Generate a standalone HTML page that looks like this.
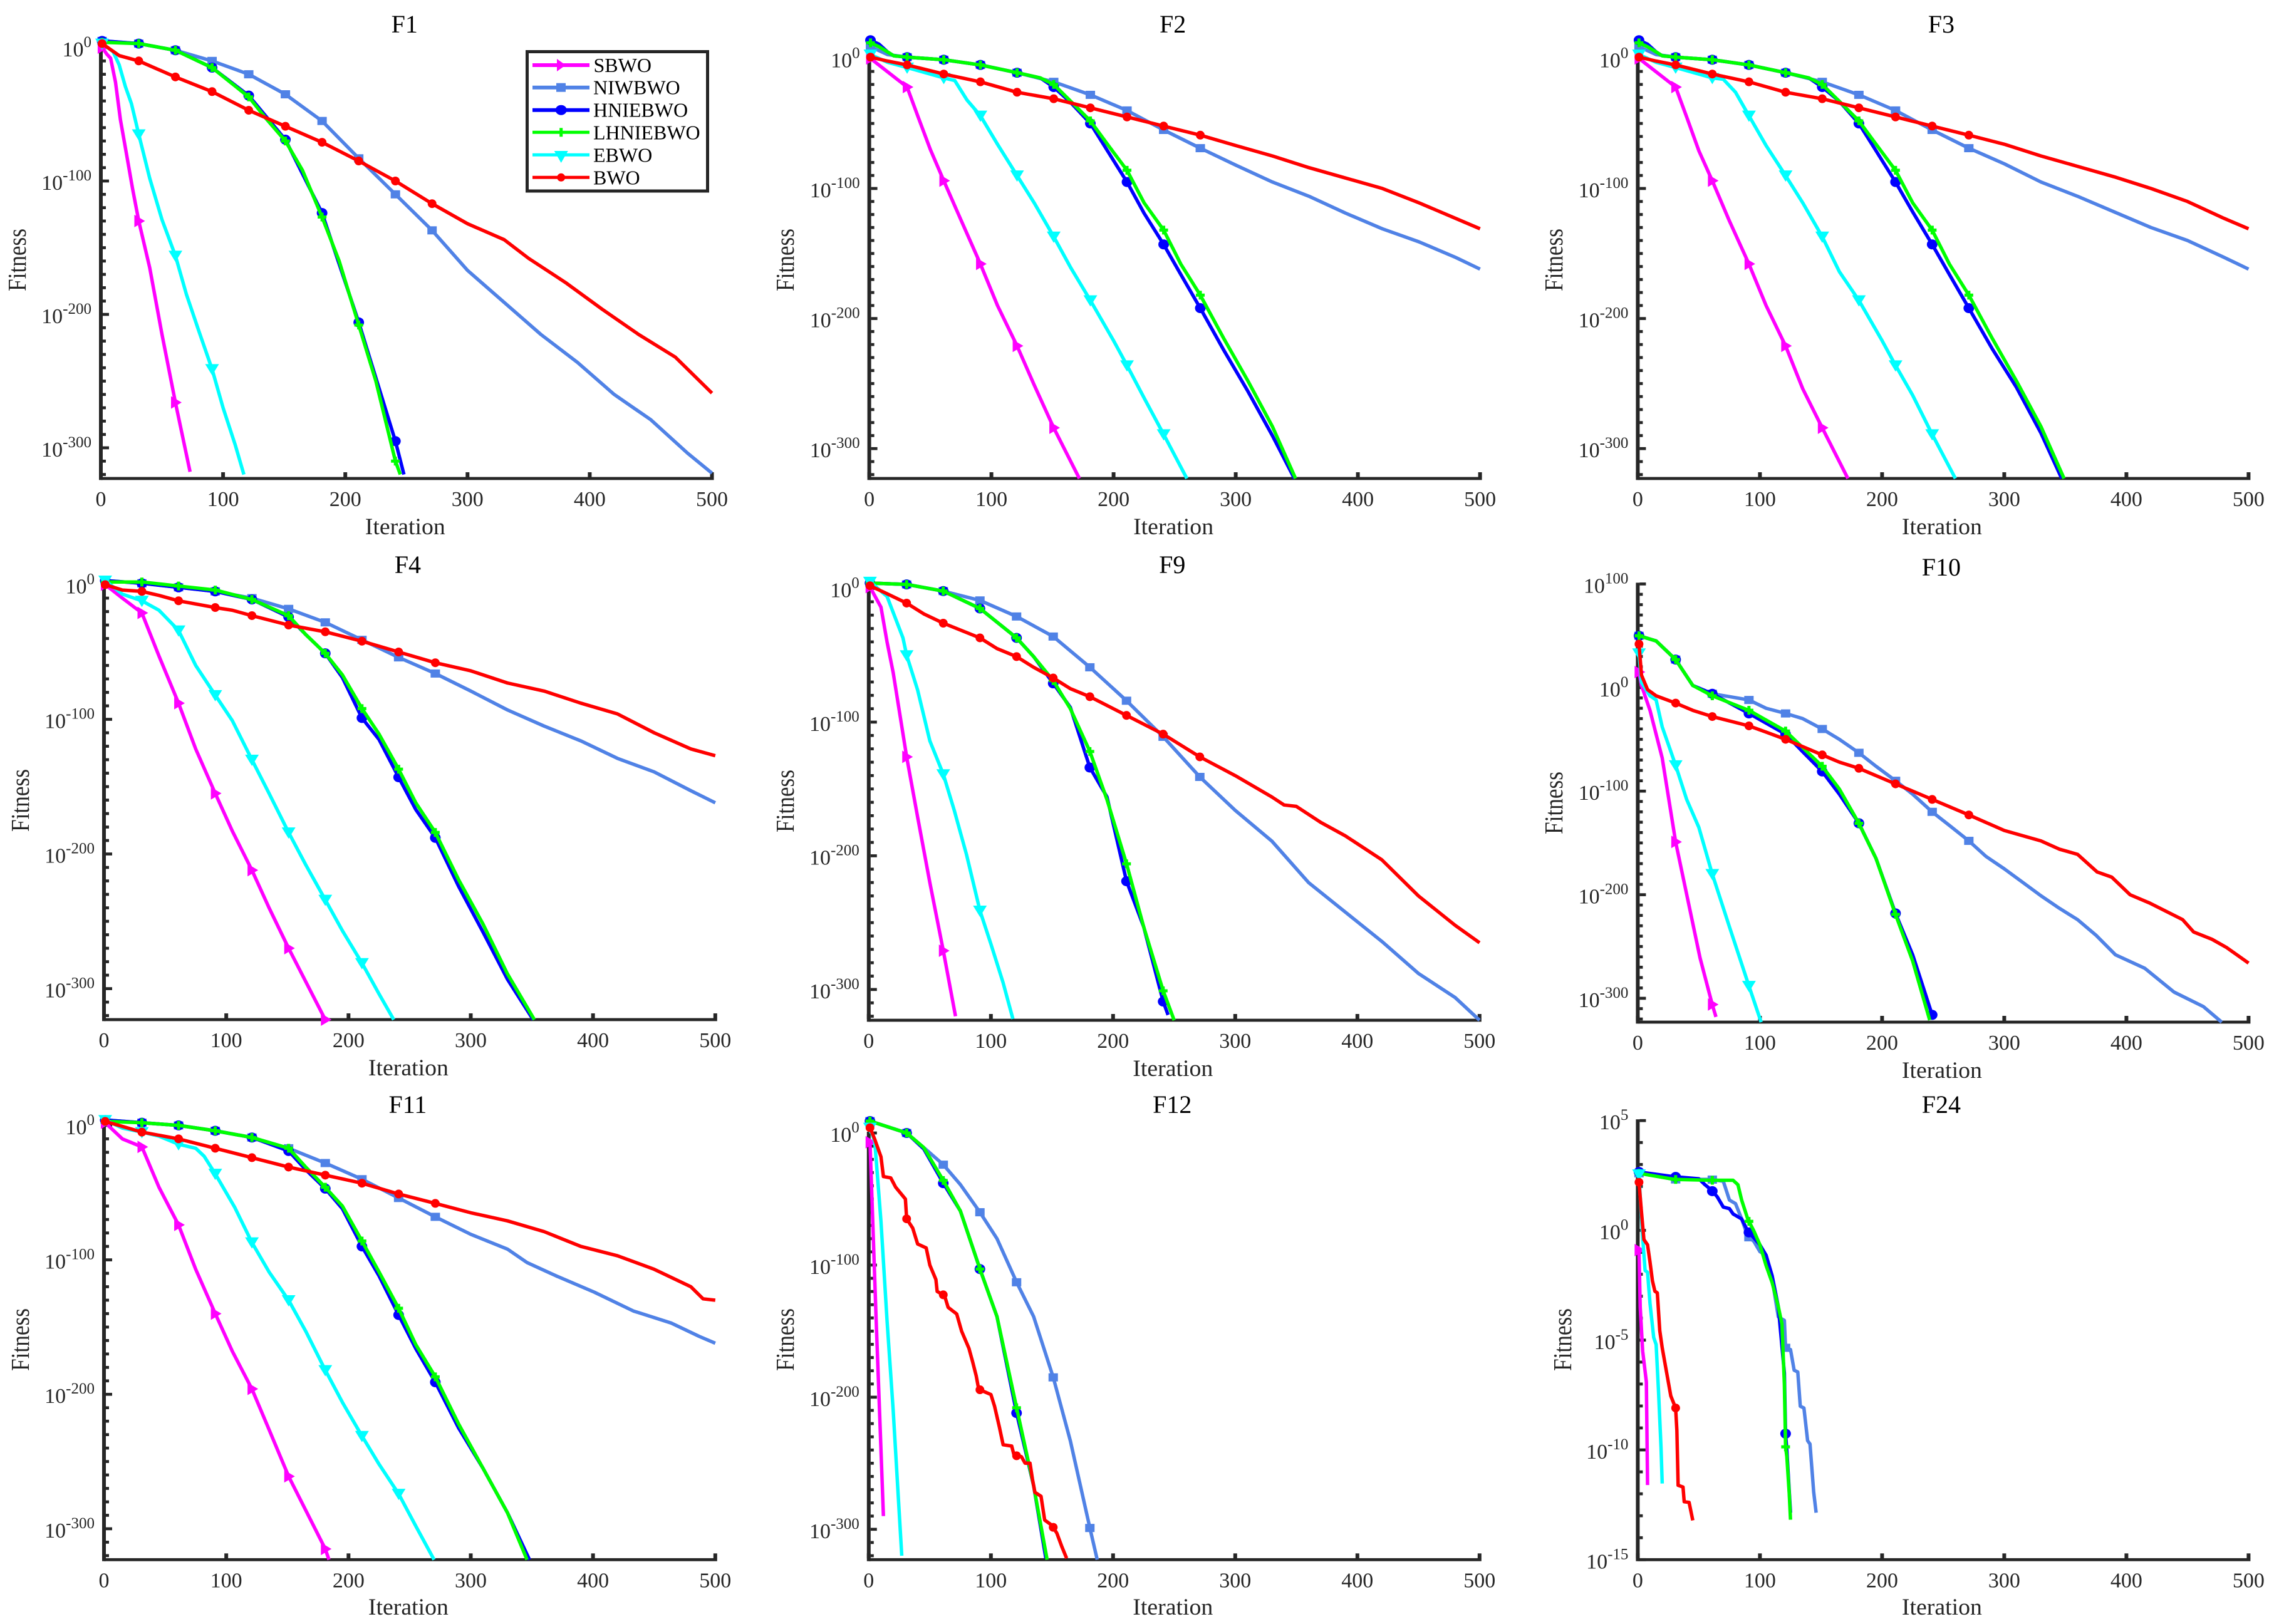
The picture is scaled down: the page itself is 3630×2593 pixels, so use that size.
<!DOCTYPE html>
<html>
<head>
<meta charset="utf-8">
<title>Convergence curves</title>
<style>
html,body{margin:0;padding:0;background:#fff;}
svg{display:block;}
text{font-family:"Liberation Serif",serif;}
</style>
</head>
<body>
<svg id="chart" xmlns="http://www.w3.org/2000/svg" width="3630" height="2593" viewBox="0 0 3630 2593">
<rect width="3630" height="2593" fill="#fff"/>
<g id="plots"></g>
<g>
<rect x="841.5" y="82.5" width="288" height="222.5" fill="#fff" stroke="#262626" stroke-width="5"/>
<g><line x1="850" x2="941" y1="104" y2="104" stroke="#ff00ff" stroke-width="6"/><polygon points="889,94 889,114 903,104" fill="#ff00ff"/><text x="947.5" y="115" font-size="32" fill="#000">SBWO</text></g>
<g><line x1="850" x2="941" y1="139.7" y2="139.7" stroke="#5082e6" stroke-width="6"/><rect x="888" y="132.7" width="15" height="14" fill="#5082e6"/><text x="947" y="150.7" font-size="32" fill="#000">NIWBWO</text></g>
<g><line x1="850" x2="941" y1="175.7" y2="175.7" stroke="#0000ff" stroke-width="6"/><ellipse cx="895.7" cy="175.7" rx="9" ry="8" fill="#0000ff"/><text x="947" y="186.7" font-size="32" fill="#000">HNIEBWO</text></g>
<g><line x1="850" x2="941" y1="211.3" y2="211.3" stroke="#00ff00" stroke-width="5"/><line x1="895.7" x2="895.7" y1="204.3" y2="218.3" stroke="#00ff00" stroke-width="5"/><text x="947" y="222.7" font-size="32" fill="#000">LHNIEBWO</text></g>
<g><line x1="850" x2="941" y1="247.3" y2="247.3" stroke="#00ffff" stroke-width="5"/><polygon points="884.7,241 906.7,241 895.7,260" fill="#00ffff"/><text x="947" y="258.7" font-size="32" fill="#000">EBWO</text></g>
<g><line x1="850" x2="941" y1="283.3" y2="283.3" stroke="#ff0000" stroke-width="5"/><circle cx="895.7" cy="283.3" r="6.5" fill="#ff0000"/><text x="947" y="294.3" font-size="32" fill="#000">BWO</text></g>
</g>
</svg>
<script>
// ---------- Chart data (exponents are log10 of fitness) ----------
const xTickLabels=[0,100,200,300,400,500];
const logTicks300=[0,-100,-200,-300];
const logTicks100=[100,0,-100,-200,-300];
const logTicksF24=[5,0,-5,-10,-15];

const F1_SBWO_iter=[1,5,8,12,16,21,26,31,40,50,61,73];
const F1_SBWO_exp=[0,-5,-8,-26,-54,-80,-106,-130,-165,-215,-266,-318];
const F1_NIWBWO_iter=[1,31,61,91,121,151,181,211,241,271,300,330,360,390,420,450,480,500];
const F1_NIWBWO_exp=[5,3,-2,-10,-20,-35,-55,-83,-110,-137,-167,-191,-215,-236,-260,-279,-304,-319];
const F1_HNIEBWO_iter=[1,31,61,91,121,151,181,211,241,248];
const F1_HNIEBWO_exp=[5,3,-2,-15,-36,-69,-124,-206,-295,-320];
const F1_LHNIEBWO_iter=[1,31,61,91,121,135,151,165,181,195,211,225,241,245];
const F1_LHNIEBWO_exp=[4,3,-2,-15,-37,-53,-70,-92,-127,-160,-208,-250,-310,-320];
const F1_EBWO_iter=[1,10,15,20,25,31,40,50,61,70,80,91,100,110,117];
const F1_EBWO_exp=[3,-3,-13,-29,-42,-65,-98,-129,-156,-185,-212,-241,-270,-298,-320];
const F1_BWO_iter=[1,15,31,61,91,121,151,181,211,241,271,300,330,350,380,410,440,470,500];
const F1_BWO_exp=[3,-6,-10,-22,-33,-47,-59,-71,-85,-100,-117,-132,-144,-158,-176,-196,-215,-232,-259];

const F2_SBWO_iter=[1,31,40,50,61,75,91,105,121,135,151,172];
const F2_SBWO_exp=[0,-22,-45,-70,-94,-124,-158,-190,-221,-251,-284,-323];
const F2_NIWBWO_iter=[1,15,31,61,91,121,151,181,211,241,271,300,330,360,390,420,450,480,500];
const F2_NIWBWO_exp=[9,3,1,-1,-5,-11,-18,-28,-40,-55,-69,-82,-95,-106,-119,-131,-141,-153,-162];
const F2_HNIEBWO_iter=[1,8,15,20,31,61,91,121,140,151,165,181,195,211,225,241,255,271,290,310,330,348];
const F2_HNIEBWO_exp=[14,11,5,2,1,-1,-5,-11,-15,-22,-34,-50,-71,-95,-119,-143,-166,-192,-224,-256,-290,-323];
const F2_LHNIEBWO_iter=[1,8,15,20,31,61,91,121,140,151,165,181,195,211,225,241,255,271,290,310,330,349];
const F2_LHNIEBWO_exp=[12,9,5,2,1,-1,-5,-11,-15,-20,-33,-48,-66,-86,-111,-132,-158,-182,-215,-248,-283,-323];
const F2_EBWO_iter=[1,15,31,61,70,80,91,105,121,135,151,165,181,200,211,225,241,260];
const F2_EBWO_exp=[3,-3,-7,-15,-17,-32,-44,-66,-90,-111,-137,-161,-186,-217,-236,-261,-289,-323];
const F2_BWO_iter=[1,15,31,61,91,121,151,181,211,241,271,300,330,360,390,420,450,480,500];
const F2_BWO_exp=[1,-2,-5,-12,-18,-26,-31,-38,-45,-52,-59,-67,-75,-84,-92,-100,-111,-123,-131];

const F3_SBWO_iter=[1,31,40,50,61,75,91,105,121,135,151,172];
const F3_SBWO_exp=[0,-22,-45,-71,-94,-125,-158,-190,-221,-254,-284,-323];
const F3_NIWBWO_iter=[1,15,31,61,91,121,151,181,211,241,271,300,330,360,390,420,450,480,500];
const F3_NIWBWO_exp=[9,3,1,-1,-5,-11,-18,-28,-40,-55,-69,-81,-95,-106,-118,-130,-140,-153,-162];
const F3_HNIEBWO_iter=[1,8,15,20,31,61,91,121,140,151,165,181,195,211,225,241,255,271,290,310,330,347];
const F3_HNIEBWO_exp=[14,11,5,2,1,-1,-5,-11,-15,-22,-33,-50,-71,-95,-118,-143,-166,-192,-223,-253,-288,-323];
const F3_LHNIEBWO_iter=[1,8,15,20,31,61,91,121,140,151,165,181,195,211,225,241,255,271,290,310,330,349];
const F3_LHNIEBWO_exp=[12,9,5,2,1,-1,-5,-11,-15,-20,-33,-48,-66,-86,-111,-132,-158,-182,-215,-248,-283,-323];
const F3_EBWO_iter=[1,15,31,61,70,80,91,105,121,135,151,165,181,200,211,225,241,260];
const F3_EBWO_exp=[3,-3,-7,-15,-16,-26,-44,-67,-90,-111,-137,-164,-186,-217,-236,-259,-289,-323];
const F3_BWO_iter=[1,15,31,61,91,121,151,181,211,241,271,300,330,360,390,420,450,480,500];
const F3_BWO_exp=[1,-2,-5,-12,-18,-26,-31,-38,-45,-52,-59,-66,-75,-83,-91,-100,-110,-123,-131];

const F4_SBWO_iter=[1,15,31,45,61,75,91,105,121,135,151,181];
const F4_SBWO_exp=[0,-10,-21,-53,-88,-122,-155,-183,-212,-240,-270,-323];
const F4_NIWBWO_iter=[1,31,61,91,121,151,181,211,241,271,300,330,360,390,420,450,480,500];
const F4_NIWBWO_exp=[3,1,-2,-5,-10,-18,-28,-41,-54,-66,-79,-93,-105,-116,-129,-139,-153,-162];
const F4_HNIEBWO_iter=[1,31,61,91,121,151,165,181,195,211,225,241,255,271,290,310,330,351];
const F4_HNIEBWO_exp=[3,1,-2,-5,-11,-24,-37,-51,-69,-99,-115,-143,-167,-188,-224,-258,-293,-323];
const F4_LHNIEBWO_iter=[1,31,61,91,121,151,165,181,195,211,225,241,255,271,290,310,330,352];
const F4_LHNIEBWO_exp=[2,2,-1,-4,-11,-23,-37,-51,-67,-92,-111,-137,-162,-184,-219,-252,-289,-323];
const F4_EBWO_iter=[1,15,31,45,61,75,91,105,121,135,151,165,181,195,211,225,237];
const F4_EBWO_exp=[3,-7,-12,-19,-34,-60,-82,-101,-130,-155,-184,-208,-234,-257,-281,-304,-323];
const F4_BWO_iter=[1,15,31,45,61,91,105,121,151,181,211,241,271,300,330,360,390,420,450,480,500];
const F4_BWO_exp=[0,-4,-5,-8,-12,-17,-19,-23,-30,-35,-42,-50,-58,-64,-73,-79,-88,-96,-110,-122,-127];

const F9_SBWO_iter=[1,10,15,20,31,40,50,61,71];
const F9_SBWO_exp=[1,-14,-40,-63,-126,-171,-220,-271,-320];
const F9_NIWBWO_iter=[1,31,61,91,121,151,181,211,241,271,300,330,360,390,420,450,480,500];
const F9_NIWBWO_exp=[4,3,-2,-9,-21,-36,-59,-84,-111,-141,-166,-189,-220,-242,-264,-288,-306,-323];
const F9_HNIEBWO_iter=[1,31,61,91,121,135,151,165,181,195,211,225,241,245];
const F9_HNIEBWO_exp=[4,3,-2,-15,-37,-51,-71,-89,-134,-156,-219,-253,-309,-319];
const F9_LHNIEBWO_iter=[1,31,61,91,121,135,151,165,181,195,211,225,241,250];
const F9_LHNIEBWO_exp=[4,3,-2,-15,-37,-51,-69,-90,-122,-158,-206,-253,-301,-323];
const F9_EBWO_iter=[1,15,20,28,31,40,50,61,70,80,91,100,110,118];
const F9_EBWO_exp=[5,-6,-18,-37,-50,-76,-114,-139,-166,-199,-241,-266,-295,-322];
const F9_BWO_iter=[1,15,31,45,61,91,105,121,135,151,165,181,211,241,271,300,330,340,350,370,390,420,450,480,500];
const F9_BWO_exp=[2,-4,-11,-19,-26,-37,-45,-51,-59,-67,-75,-81,-95,-109,-126,-140,-156,-162,-163,-175,-185,-203,-230,-252,-265];

const F10_SBWO_iter=[1,3,10,20,31,41,51,61,64];
const F10_SBWO_exp=[15,2,-22,-68,-149,-205,-261,-306,-318];
const F10_NIWBWO_iter=[1,15,31,45,61,91,105,121,135,151,165,181,195,211,225,241,255,271,285,300,315,330,345,360,375,391,415,439,463,478];
const F10_NIWBWO_exp=[50,45,27,2,-6,-12,-20,-25,-30,-40,-50,-63,-76,-90,-103,-120,-133,-148,-163,-175,-188,-201,-213,-224,-239,-258,-271,-294,-308,-323];
const F10_HNIEBWO_iter=[1,15,31,45,61,91,121,135,151,165,181,195,211,225,241];
const F10_HNIEBWO_exp=[50,45,27,2,-6,-25,-45,-62,-81,-103,-131,-165,-218,-258,-316];
const F10_LHNIEBWO_iter=[1,15,31,45,61,91,121,135,151,165,181,195,211,225,239];
const F10_LHNIEBWO_exp=[50,45,27,2,-8,-22,-42,-58,-76,-98,-131,-165,-219,-264,-321];
const F10_EBWO_iter=[1,3,10,15,20,31,40,50,61,75,91,101];
const F10_EBWO_exp=[33,5,-8,-12,-38,-75,-108,-135,-180,-231,-288,-323];
const F10_BWO_iter=[1,3,8,15,31,45,61,91,105,121,151,165,181,211,241,271,300,330,345,360,376,388,403,419,446,455,470,482,500];
const F10_BWO_exp=[42,12,-2,-8,-15,-22,-28,-37,-43,-50,-65,-72,-78,-93,-108,-123,-138,-148,-156,-161,-178,-183,-200,-208,-224,-236,-243,-251,-266];

const F11_SBWO_iter=[1,15,31,45,61,75,91,105,121,134,151,181,184];
const F11_SBWO_exp=[2,-10,-16,-46,-74,-107,-140,-168,-196,-224,-261,-315,-323];
const F11_NIWBWO_iter=[1,31,61,91,121,151,181,211,241,271,300,330,346,370,401,433,464,487,500];
const F11_NIWBWO_exp=[4,2,0,-4,-9,-17,-28,-40,-54,-68,-81,-92,-102,-112,-124,-138,-147,-157,-162];
const F11_HNIEBWO_iter=[1,31,61,91,121,151,165,181,195,211,225,241,255,271,290,310,330,348];
const F11_HNIEBWO_exp=[4,2,0,-4,-9,-19,-33,-47,-62,-90,-112,-141,-166,-191,-225,-255,-288,-323];
const F11_LHNIEBWO_iter=[1,31,61,91,121,151,165,181,195,211,225,241,255,271,290,310,330,346];
const F11_LHNIEBWO_exp=[3,2,0,-4,-9,-17,-31,-46,-60,-86,-109,-136,-163,-187,-222,-255,-288,-323];
const F11_EBWO_iter=[1,15,31,45,61,75,82,91,107,121,135,151,165,181,195,211,225,241,255,270];
const F11_EBWO_exp=[4,-2,-5,-8,-14,-17,-23,-36,-61,-87,-109,-130,-153,-182,-206,-231,-252,-274,-298,-323];
const F11_BWO_iter=[1,31,61,91,121,151,181,211,241,271,300,330,360,390,420,450,480,490,500];
const F11_BWO_exp=[3,-5,-10,-17,-24,-31,-37,-43,-51,-58,-65,-71,-79,-90,-97,-107,-120,-129,-130];

const F12_SBWO_iter=[1,6,12];
const F12_SBWO_exp=[-7,-140,-290];
const F12_NIWBWO_iter=[1,31,45,61,75,91,105,121,135,151,165,181,187];
const F12_NIWBWO_exp=[9,0,-11,-24,-39,-60,-80,-113,-139,-185,-233,-299,-323];
const F12_HNIEBWO_iter=[1,31,45,61,75,91,105,121,135,145];
const F12_HNIEBWO_exp=[9,0,-12,-38,-59,-103,-139,-212,-267,-322];
const F12_LHNIEBWO_iter=[1,31,45,61,75,91,105,121,135,146];
const F12_LHNIEBWO_exp=[9,0,-11,-36,-59,-103,-139,-208,-267,-323];
const F12_EBWO_iter=[1,5,10,15,20,27];
const F12_EBWO_exp=[4,-7,-67,-142,-210,-320];
const F12_BWO_iter=[1,5,10,12,18,22,30,31,36,40,47,50,55,56,62,65,72,76,82,85,88,90,100,103,107,110,117,119,125,128,132,134,136,141,144,150,154,158,162];
const F12_BWO_exp=[4,-5,-18,-33,-34,-41,-50,-65,-72,-84,-87,-100,-111,-120,-123,-132,-137,-150,-163,-173,-184,-194,-198,-207,-223,-236,-237,-244,-245,-250,-250,-262,-272,-275,-293,-297,-303,-313,-322];

const F24_SBWO_iter=[1,2,4,7,8];
const F24_SBWO_exp=[-0.9,-3.5,-5.5,-6.9,-11.6];
const F24_NIWBWO_iter=[1,30,60,70,75,80,85,90,95,100,105,110,115,120,121,125,128,131,133,136,139,141,144,146];
const F24_NIWBWO_exp=[2.6,2.32,2.32,2.24,1.38,1.22,0.52,-0.27,-0.5,-0.97,-1.13,-2.22,-3.94,-4.1,-5.35,-5.43,-6.37,-6.45,-8.01,-8.09,-9.58,-9.73,-11.92,-12.86];
const F24_HNIEBWO_iter=[1,30,50,55,60,65,70,75,78,85,90,95,100,105,110,115,120,121,122,125];
const F24_HNIEBWO_exp=[2.66,2.44,2.35,2.08,1.85,1.53,1.06,0.99,0.75,0.52,-0.03,-0.34,-0.66,-1.13,-2.07,-3.47,-6.5,-9.26,-10,-12.86];
const F24_LHNIEBWO_iter=[1,30,60,78,82,85,90,95,100,105,110,115,118,120,121,122,124,125];
const F24_LHNIEBWO_exp=[2.6,2.32,2.28,2.28,2.08,1.38,0.52,-0.03,-0.66,-1.6,-2.38,-3.47,-4.26,-7,-9.86,-10.3,-12,-13.18];
const F24_EBWO_iter=[1,2,4,6,8,10,13,15,17,19,20];
const F24_EBWO_exp=[2.55,1.53,-0.34,-1.83,-1.91,-3.32,-4.88,-5.2,-7.39,-9.89,-11.53];
const F24_BWO_iter=[1,3,5,8,10,12,14,16,18,20,24,27,31,32,33,37,38,42,45];
const F24_BWO_exp=[2.19,0.83,-0.42,-0.66,-1.44,-2.3,-2.77,-2.85,-4.57,-5.35,-6.6,-7.54,-8.09,-9.11,-11.61,-11.69,-12.36,-12.39,-13.21];

// ---------- Layout and drawing ----------
const NS='http://www.w3.org/2000/svg';
const plotsRoot=document.getElementById('plots');
const AXIS='#262626';
const MARKER_STEP=30;
const MARKER_LAST=271;
const seriesStyles=[
 {key:'sbwo',color:'#ff00ff',marker:'tri-right'},
 {key:'niwbwo',color:'#5082e6',marker:'square'},
 {key:'hniebwo',color:'#0000ff',marker:'circle'},
 {key:'lhniebwo',color:'#00ff00',marker:'plus'},
 {key:'ebwo',color:'#00ffff',marker:'tri-down'},
 {key:'bwo',color:'#ff0000',marker:'dot'}
];
const panels=[
 {title:'F1',left:161,right:1136.5,top:76,bottom:764,yMax:0,yMin:-323,major:logTicks300,minorStep:10,titleY:52,xLabelY:853,yLabelX:41,yLabelCy:415,
  series:[[F1_SBWO_iter,F1_SBWO_exp],[F1_NIWBWO_iter,F1_NIWBWO_exp],[F1_HNIEBWO_iter,F1_HNIEBWO_exp],[F1_LHNIEBWO_iter,F1_LHNIEBWO_exp],[F1_EBWO_iter,F1_EBWO_exp],[F1_BWO_iter,F1_BWO_exp]]},
 {title:'F2',left:1387.6,right:2362.6,top:93.3,bottom:764,yMax:0,yMin:-323,major:logTicks300,minorStep:10,titleY:52,xLabelY:853,yLabelX:1267,yLabelCy:415,
  series:[[F2_SBWO_iter,F2_SBWO_exp],[F2_NIWBWO_iter,F2_NIWBWO_exp],[F2_HNIEBWO_iter,F2_HNIEBWO_exp],[F2_LHNIEBWO_iter,F2_LHNIEBWO_exp],[F2_EBWO_iter,F2_EBWO_exp],[F2_BWO_iter,F2_BWO_exp]]},
 {title:'F3',left:2614.4,right:3589.4,top:93.3,bottom:764,yMax:0,yMin:-323,major:logTicks300,minorStep:10,titleY:52,xLabelY:853,yLabelX:2494,yLabelCy:415,
  series:[[F3_SBWO_iter,F3_SBWO_exp],[F3_NIWBWO_iter,F3_NIWBWO_exp],[F3_HNIEBWO_iter,F3_HNIEBWO_exp],[F3_LHNIEBWO_iter,F3_LHNIEBWO_exp],[F3_EBWO_iter,F3_EBWO_exp],[F3_BWO_iter,F3_BWO_exp]]},
 {title:'F4',left:166,right:1141.8,top:933.5,bottom:1628,yMax:0,yMin:-323,major:logTicks300,minorStep:10,titleY:915,xLabelY:1717,yLabelX:46,yLabelCy:1278,
  series:[[F4_SBWO_iter,F4_SBWO_exp],[F4_NIWBWO_iter,F4_NIWBWO_exp],[F4_HNIEBWO_iter,F4_HNIEBWO_exp],[F4_LHNIEBWO_iter,F4_LHNIEBWO_exp],[F4_EBWO_iter,F4_EBWO_exp],[F4_BWO_iter,F4_BWO_exp]]},
 {title:'F9',left:1386.8,right:2361.8,top:939.5,bottom:1629,yMax:0,yMin:-323,major:logTicks300,minorStep:10,titleY:915,xLabelY:1718,yLabelX:1267,yLabelCy:1279,
  series:[[F9_SBWO_iter,F9_SBWO_exp],[F9_NIWBWO_iter,F9_NIWBWO_exp],[F9_HNIEBWO_iter,F9_HNIEBWO_exp],[F9_LHNIEBWO_iter,F9_LHNIEBWO_exp],[F9_EBWO_iter,F9_EBWO_exp],[F9_BWO_iter,F9_BWO_exp]]},
 {title:'F10',left:2614.4,right:3589.4,top:932.4,bottom:1632,yMax:100,yMin:-323,major:logTicks100,minorStep:10,titleY:919,xLabelY:1721,yLabelX:2494,yLabelCy:1282,
  series:[[F10_SBWO_iter,F10_SBWO_exp],[F10_NIWBWO_iter,F10_NIWBWO_exp],[F10_HNIEBWO_iter,F10_HNIEBWO_exp],[F10_LHNIEBWO_iter,F10_LHNIEBWO_exp],[F10_EBWO_iter,F10_EBWO_exp],[F10_BWO_iter,F10_BWO_exp]]},
 {title:'F11',left:166,right:1141.8,top:1796.9,bottom:2490.3,yMax:0,yMin:-323,major:logTicks300,minorStep:10,titleY:1777,xLabelY:2578,yLabelX:46,yLabelCy:2139,
  series:[[F11_SBWO_iter,F11_SBWO_exp],[F11_NIWBWO_iter,F11_NIWBWO_exp],[F11_HNIEBWO_iter,F11_HNIEBWO_exp],[F11_LHNIEBWO_iter,F11_LHNIEBWO_exp],[F11_EBWO_iter,F11_EBWO_exp],[F11_BWO_iter,F11_BWO_exp]]},
 {title:'F12',left:1386.8,right:2361.8,top:1809,bottom:2490.3,yMax:0,yMin:-323,major:logTicks300,minorStep:10,titleY:1777,xLabelY:2578,yLabelX:1267,yLabelCy:2139,
  series:[[F12_SBWO_iter,F12_SBWO_exp],[F12_NIWBWO_iter,F12_NIWBWO_exp],[F12_HNIEBWO_iter,F12_HNIEBWO_exp],[F12_LHNIEBWO_iter,F12_LHNIEBWO_exp],[F12_EBWO_iter,F12_EBWO_exp],[F12_BWO_iter,F12_BWO_exp]]},
 {title:'F24',left:2614.4,right:3589.4,top:1789.2,bottom:2490.3,yMax:5,yMin:-15,major:logTicksF24,minorStep:1,titleY:1777,xLabelY:2578,yLabelX:2508,yLabelCy:2139,
  series:[[F24_SBWO_iter,F24_SBWO_exp],[F24_NIWBWO_iter,F24_NIWBWO_exp],[F24_HNIEBWO_iter,F24_HNIEBWO_exp],[F24_LHNIEBWO_iter,F24_LHNIEBWO_exp],[F24_EBWO_iter,F24_EBWO_exp],[F24_BWO_iter,F24_BWO_exp]]}
];

function make(tag,attrs,parent){
  const el=document.createElementNS(NS,tag);
  for(const k in attrs){el.setAttribute(k,attrs[k]);}
  parent.appendChild(el);
  return el;
}
function interp(xs,ys,x){
  for(let i=1;i<xs.length;i++){
    if(x<=xs[i]){
      const t=(x-xs[i-1])/(xs[i]-xs[i-1]);
      return ys[i-1]+t*(ys[i]-ys[i-1]);
    }
  }
  return ys[ys.length-1];
}
function drawMarker(kind,color,x,y,parent){
  let el;
  if(kind==='tri-right'){
    el=make('polygon',{points:(x-7)+','+(y-10)+' '+(x-7)+','+(y+10)+' '+(x+10)+','+y,fill:color},parent);
  }else if(kind==='tri-down'){
    el=make('polygon',{points:(x-11)+','+(y-8)+' '+(x+11)+','+(y-8)+' '+x+','+(y+10),fill:color},parent);
  }else if(kind==='square'){
    el=make('rect',{x:x-7.5,y:y-6.5,width:15,height:13,fill:color},parent);
  }else if(kind==='circle'){
    el=make('ellipse',{cx:x,cy:y,rx:8.5,ry:8,fill:color},parent);
  }else if(kind==='dot'){
    el=make('circle',{cx:x,cy:y,r:7,fill:color},parent);
  }else{
    el=make('path',{d:'M'+(x-7)+' '+y+'H'+(x+7)+'M'+x+' '+(y-7)+'V'+(y+7),stroke:color,'stroke-width':5,fill:'none'},parent);
  }
  
  
}

panels.forEach(function(p){
  const xOf=function(v){return p.left+(v/500)*(p.right-p.left);};
  const yOf=function(v){return p.top+((p.yMax-v)/(p.yMax-p.yMin))*(p.bottom-p.top);};
  const cx=(p.left+p.right)/2;

  const g=make('g',{},plotsRoot);
  
  

  const title=make('text',{x:cx-3,y:p.titleY,'font-size':40,'text-anchor':'middle',fill:'#000'},g);
  title.textContent=p.title;
  
  

  // axes
  const yAxis=make('rect',{x:p.left-3,y:p.top-2,width:6,height:p.bottom-p.top+4.4,fill:AXIS},g);
  
  
  const xAxis=make('rect',{x:p.left,y:p.bottom-2.4,width:p.right-p.left+3,height:4.8,fill:AXIS},g);
  
  

  xTickLabels.forEach(function(v){
    const px=xOf(v);
    const t=make('rect',{x:px-3,y:p.bottom-10,width:6,height:8,fill:AXIS},g);
    
    
    const lab=make('text',{x:px,y:p.bottom+44,'font-size':34,'text-anchor':'middle',fill:AXIS},g);
    lab.textContent=String(v);
    
    
  });

  for(let e=p.yMax;e>=p.yMin;e-=p.minorStep){
    const isMajor=p.major.indexOf(e)>=0;
    const py=yOf(e);
    const t=make('rect',{x:p.left+3,y:py-2.35,width:isMajor?10:5,height:4.7,fill:AXIS},g);
    
    
  }
  p.major.forEach(function(e){
    const py=yOf(e);
    const lab=make('text',{x:p.left-15,y:py+14,'font-size':34,'text-anchor':'end',fill:AXIS},g);
    
    
    const base=make('tspan',{},lab);
    base.textContent='10';
    const sup=make('tspan',{dy:-15,'font-size':25},lab);
    sup.textContent=String(e);
  });

  const xl=make('text',{x:cx-2,y:p.xLabelY,'font-size':37,'text-anchor':'middle',textLength:128,lengthAdjust:'spacingAndGlyphs',fill:AXIS},g);
  xl.textContent='Iteration';
  
  
  const yl=make('text',{'font-size':36,'text-anchor':'middle',textLength:100,lengthAdjust:'spacingAndGlyphs',fill:AXIS,transform:'translate('+p.yLabelX+','+p.yLabelCy+') rotate(-90) scale(1,1.15)'},g);
  yl.textContent='Fitness';
  
  

  // series
  p.series.forEach(function(pair,si){
    const iters=pair[0];
    const exps=pair[1];
    const st=seriesStyles[si];
    const sg=make('g',{},g);
    
    
    const pts=iters.map(function(it,i){return xOf(it).toFixed(1)+','+yOf(exps[i]).toFixed(1);}).join(' ');
    const line=make('polyline',{points:pts,fill:'none',stroke:st.color,'stroke-width':5.5,'stroke-linejoin':'round'},sg);
    
    
    const last=Math.min(iters[iters.length-1],MARKER_LAST);
    for(let it=1;it<=last;it+=MARKER_STEP){
      drawMarker(st.marker,st.color,xOf(it),yOf(interp(iters,exps,it)),sg);
    }
  });
});
</script>
</body>
</html>
